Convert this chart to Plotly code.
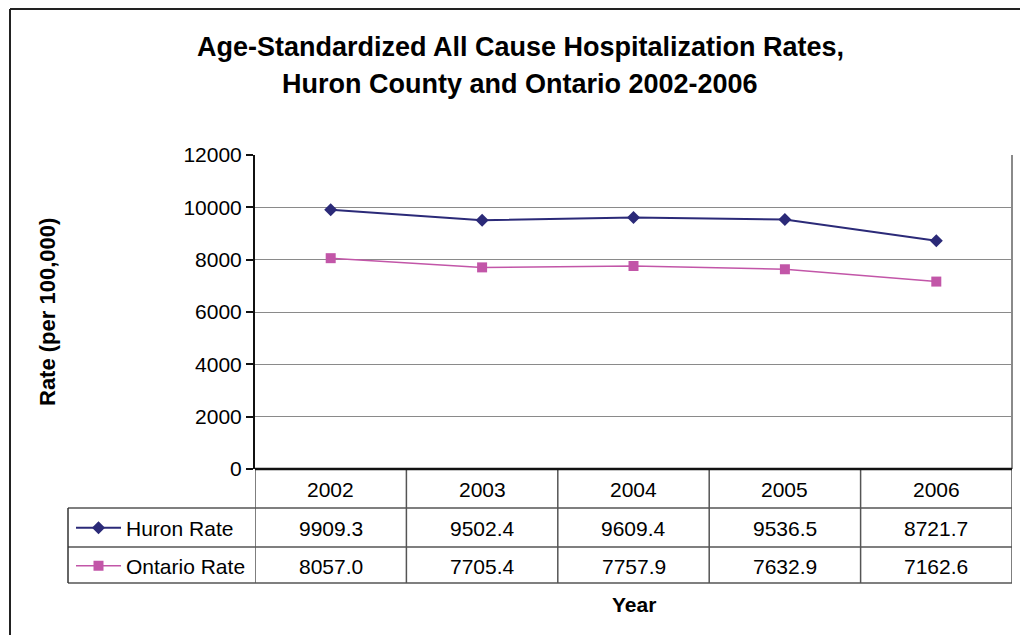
import plotly.graph_objects as go

# Hospitalization rates (per 100,000), age-standardized
years = ["2002", "2003", "2004", "2005", "2006"]
huron_rate = [9909.3, 9502.4, 9609.4, 9536.5, 8721.7]
ontario_rate = [8057.0, 7705.4, 7757.9, 7632.9, 7162.6]
series_names = ["Huron Rate", "Ontario Rate"]
y_ticks = [0, 2000, 4000, 6000, 8000, 10000, 12000]

W, H = 1020, 635
L, R, T, B = 255, 8, 155, 166
PW, PH = W - L - R, H - T - B

FONT = "Liberation Sans, Arial, sans-serif"
NAVY = "#2B2A78"
PINK = "#C256A8"
GRID = "#8A8A8A"
TABLE = "#555555"
TXT = 21


def px(x):
    """Pixel column -> paper x."""
    return (x - L) / PW


def py(y):
    """Pixel row -> paper y."""
    return (H - B - y) / PH


xs = list(range(len(years)))

fig = go.Figure()
fig.add_trace(go.Scatter(
    x=xs, y=huron_rate, name=series_names[0], mode="lines+markers",
    line=dict(color=NAVY, width=2),
    marker=dict(symbol="diamond", size=10, color=NAVY),
    legend="legend", showlegend=True,
))
fig.add_trace(go.Scatter(
    x=xs, y=ontario_rate, name=series_names[1], mode="lines+markers",
    line=dict(color=PINK, width=1.5),
    marker=dict(symbol="square", size=10, color=PINK),
    legend="legend2", showlegend=True,
))

shapes = []
# outer chart frame (left and top edges)
shapes.append(dict(type="line", xref="paper", yref="paper",
                   x0=px(10), x1=px(1020), y0=py(9), y1=py(9),
                   line=dict(color="#222", width=2)))
shapes.append(dict(type="line", xref="paper", yref="paper",
                   x0=px(10), x1=px(10), y0=py(9), y1=py(640),
                   line=dict(color="#222", width=2)))
# right edge of plot area
shapes.append(dict(type="line", xref="paper", yref="paper",
                   x0=1, x1=1, y0=0, y1=1, line=dict(color=GRID, width=2)))

# data table below the axis
row_y = [469, 508, 547, 583]
for i in range(len(years) + 1):
    shapes.append(dict(type="line", xref="x", yref="paper",
                       x0=i - 0.5, x1=i - 0.5, y0=py(row_y[0]), y1=py(row_y[-1]),
                       line=dict(color=TABLE, width=1.5)))
for yy in row_y[1:]:
    shapes.append(dict(type="line", xref="paper", yref="paper",
                       x0=px(68), x1=1, y0=py(yy), y1=py(yy),
                       line=dict(color=TABLE, width=1.5)))
shapes.append(dict(type="line", xref="paper", yref="paper",
                   x0=px(68), x1=px(68), y0=py(row_y[1]), y1=py(row_y[-1]),
                   line=dict(color="#333", width=1.5)))
# axis base line
shapes.append(dict(type="line", xref="paper", yref="paper",
                   x0=0, x1=1, y0=0, y1=0, line=dict(color="#111", width=2.5)))

annotations = []
row_centers = [489, 528, 566]
cell = dict(showarrow=False, xanchor="center", yanchor="middle",
            xref="x", yref="paper", font=dict(size=TXT, color="#000", family=FONT))
for i, yr in enumerate(years):
    annotations.append(dict(x=i, y=py(row_centers[0]), text=yr, **cell))
for r, vals in enumerate([huron_rate, ontario_rate]):
    for i, v in enumerate(vals):
        annotations.append(dict(x=i, y=py(row_centers[r + 1]), text=f"{v:.1f}", **cell))

# titles
title_font = dict(size=27, color="#000", family=FONT)
annotations.append(dict(x=px(520), y=py(47), xref="paper", yref="paper",
                        text="<b>Age-Standardized All Cause Hospitalization Rates,</b>",
                        showarrow=False, xanchor="center", yanchor="middle",
                        font=title_font))
annotations.append(dict(x=px(520), y=py(84), xref="paper", yref="paper",
                        text="<b>Huron County and Ontario 2002-2006</b>",
                        showarrow=False, xanchor="center", yanchor="middle",
                        font=title_font))
annotations.append(dict(x=2, y=py(604), xref="x", yref="paper",
                        text="<b>Year</b>", showarrow=False,
                        xanchor="center", yanchor="middle",
                        font=dict(size=TXT, color="#000", family=FONT)))
annotations.append(dict(x=px(47), y=0.5, xref="paper", yref="paper",
                        text="<b>Rate (per 100,000)</b>", textangle=-90,
                        showarrow=False, xanchor="center", yanchor="middle",
                        font=dict(size=22, color="#000", family=FONT)))

legend_style = dict(font=dict(size=TXT, color="#000", family=FONT),
                    bgcolor="rgba(0,0,0,0)", borderwidth=0, visible=True,
                    itemwidth=45,
                    xanchor="left", yanchor="middle", xref="paper", yref="paper")

fig.update_layout(
    width=W, height=H,
    margin=dict(l=L, r=R, t=T, b=B, pad=0),
    paper_bgcolor="white", plot_bgcolor="white",
    font=dict(family=FONT, color="#000"),
    showlegend=True,
    xaxis=dict(range=[-0.5, len(years) - 0.5], showgrid=False, zeroline=False,
               showticklabels=False, ticks="", showline=False, fixedrange=True),
    yaxis=dict(range=[0, 12000], tickvals=y_ticks, ticktext=[str(v) for v in y_ticks],
               showgrid=True, gridcolor=GRID,
               gridwidth=1, zeroline=False, showline=True, linecolor="#111",
               linewidth=2, ticks="outside", ticklen=7, tickcolor="#111",
               tickwidth=1.5, tickfont=dict(size=TXT, color="#000", family=FONT),
               fixedrange=True),
    legend=dict(x=px(71), y=py(528), **legend_style),
    legend2=dict(x=px(71), y=py(566), **legend_style),
    shapes=shapes,
    annotations=annotations,
)

fig.write_html("out.html")
